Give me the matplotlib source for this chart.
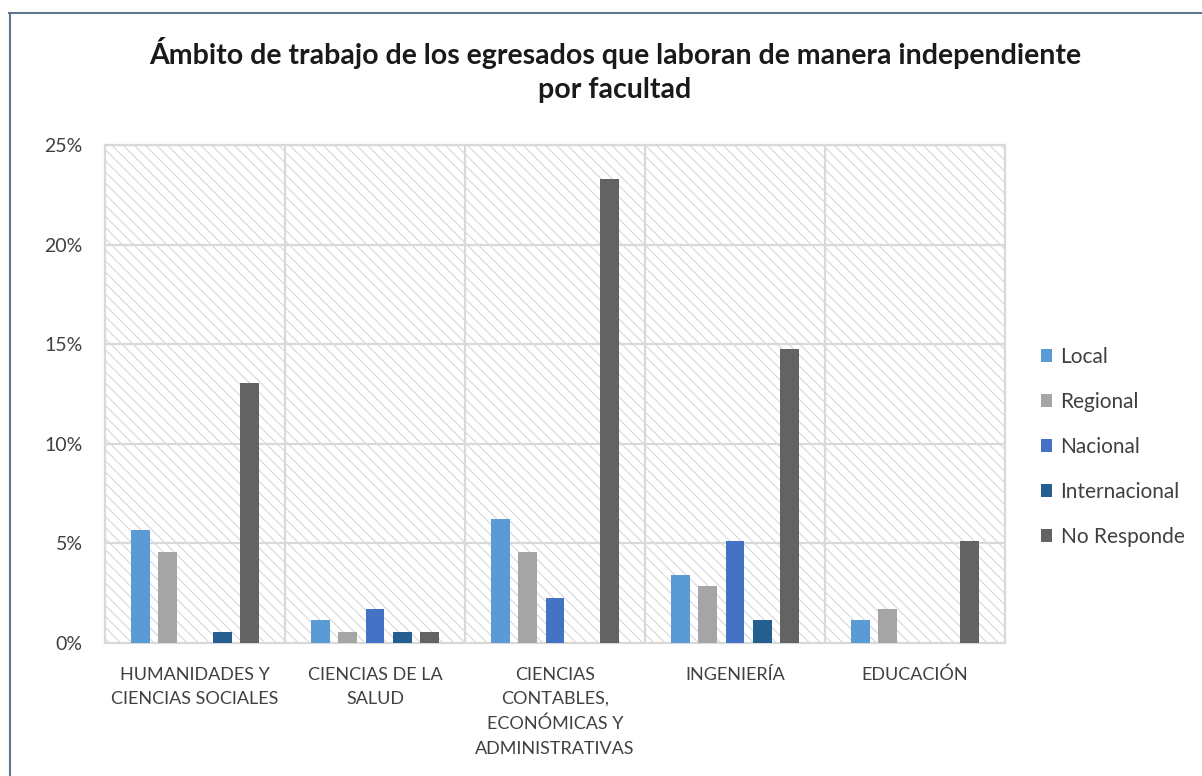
import numpy as np
import matplotlib.pyplot as plt
from matplotlib.patches import Rectangle, Patch
from matplotlib.lines import Line2D

plt.rcParams['font.family'] = ['Lato', 'DejaVu Sans']
plt.rcParams['hatch.linewidth'] = 0.7

facultades = [
    "HUMANIDADES Y\nCIENCIAS SOCIALES",
    "CIENCIAS DE LA\nSALUD",
    "CIENCIAS\nCONTABLES,\nECONÓMICAS Y\nADMINISTRATIVAS",
    "INGENIERÍA",
    "EDUCACIÓN",
]
series = ["Local", "Regional", "Nacional", "Internacional", "No Responde"]
colores = ["#5B9BD5", "#A5A5A5", "#4472C4", "#255E91", "#636363"]

local = [5.68, 1.14, 6.25, 3.41, 1.14]
regional = [4.55, 0.57, 4.55, 2.84, 1.70]
nacional = [0.0, 1.70, 2.27, 5.11, 0.0]
internacional = [0.57, 0.57, 0.0, 1.14, 0.0]
no_responde = [13.07, 0.57, 23.30, 14.77, 5.11]
valores = [local, regional, nacional, internacional, no_responde]

fig = plt.figure(figsize=(12.02, 7.76), dpi=100)
ax = fig.add_axes([105 / 1202, 1 - 643 / 776, 900 / 1202, 498 / 776])

# fondo rayado del area de trazado
ax.add_patch(Rectangle((0, 0), 1, 1, transform=ax.transAxes, facecolor="white",
                       edgecolor="#d2d2d2", hatch="\\\\\\", linewidth=0, zorder=0))

x = np.arange(len(facultades))
paso = 0.152
ancho = 0.105
for i, (nombre, vals, c) in enumerate(zip(series, valores, colores)):
    ax.bar(x + (i - 2) * paso, vals, width=ancho, color=c, zorder=3, label=nombre)

ax.set_xlim(-0.5, len(facultades) - 0.5)
ax.set_ylim(0, 25)
ax.set_yticks(range(0, 30, 5))
ax.set_yticklabels([f"{v}%" for v in range(0, 30, 5)], fontsize=14, color="#404040")
ax.set_xticks(x)
ax.set_xticklabels(facultades, fontsize=13, color="#404040", linespacing=1.65)
ax.tick_params(length=0, pad=16, axis="y")
ax.tick_params(length=0, pad=17, axis="x")

for v in range(5, 30, 5):
    ax.axhline(v, color="#d9d9d9", lw=1.6, zorder=1)
for b in np.arange(0.5, len(facultades) - 0.5, 1):
    ax.axvline(b, color="#d9d9d9", lw=1.6, zorder=1)
for s in ax.spines.values():
    s.set_color("#d9d9d9")
    s.set_linewidth(1.6)

handles = [Patch(facecolor=c, edgecolor="none") for c in colores]
fig.legend(handles, series, loc="center left", bbox_to_anchor=(1022 / 1202, 1 - 447 / 776),
           frameon=False, fontsize=15, handlelength=0.55, handleheight=0.55,
           handletextpad=0.4, labelspacing=1.2, labelcolor="#404040")

fig.text(615 / 1202, 1 - 70 / 776,
         "Ámbito de trabajo de los egresados que laboran de manera independiente\npor facultad",
         ha="center", va="center", fontsize=20.5, fontweight="bold", color="#1a1a1a",
         linespacing=1.35)

# borde del grafico
fig.add_artist(Line2D([9 / 1202, 1], [1 - 12.5 / 776, 1 - 12.5 / 776],
                      transform=fig.transFigure, color="#5F7590", lw=1.5))
fig.add_artist(Line2D([9.5 / 1202, 9.5 / 1202], [0, 1 - 12.5 / 776],
                      transform=fig.transFigure, color="#5F7590", lw=1.5))

fig.savefig("out.png", dpi=100)
